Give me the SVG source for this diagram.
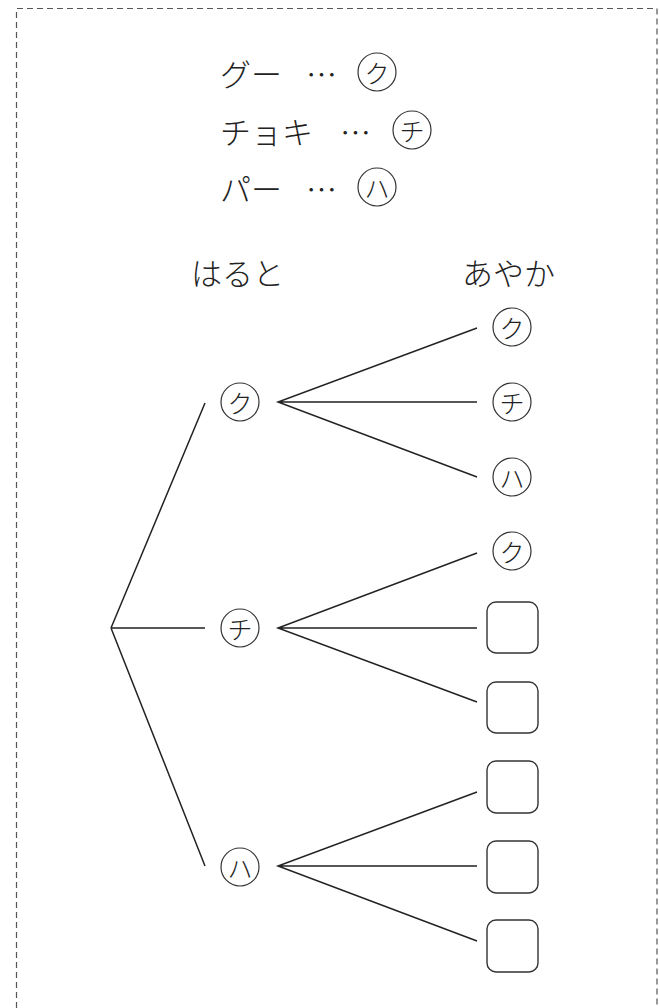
<svg xmlns="http://www.w3.org/2000/svg" width="660" height="1008" viewBox="0 0 660 1008">
<style>
.t{font-family:"Noto Sans CJK JP","Noto Sans CJK SC",sans-serif;font-size:31px;font-weight:300;fill:#222;dominant-baseline:central}
.c{font-family:"Noto Sans CJK JP","Noto Sans CJK SC",sans-serif;font-size:25px;font-weight:300;fill:#222;text-anchor:middle;dominant-baseline:central}
.ring{fill:none;stroke:#333;stroke-width:1.2}
.box{fill:#fff;stroke:#333;stroke-width:1.4}
.ln{stroke:#222;stroke-width:1.5;fill:none}
</style>
<defs>
<circle id="ring" r="19" class="ring"/>
</defs>
<path d="M16.5 1008 V8.5 H657 V1008" fill="none" stroke="#555" stroke-width="1.2" stroke-dasharray="6 4"/>
<g id="legend">
<text class="t" x="220" y="72">グー</text>
<text class="t" x="306" y="72">…</text>
<use href="#ring" x="377" y="72"/><text class="c" x="377" y="72">ク</text>
<text class="t" x="220" y="130">チョキ</text>
<text class="t" x="340" y="130">…</text>
<use href="#ring" x="412" y="130"/><text class="c" x="412" y="130">チ</text>
<text class="t" x="220" y="187">パー</text>
<text class="t" x="306" y="187">…</text>
<use href="#ring" x="377" y="187"/><text class="c" x="377" y="187">ハ</text>
</g>
<g id="headers">
<text class="t" x="191" y="271">はると</text>
<text class="t" x="462" y="271">あやか</text>
</g>
<g id="connectors">
<path class="ln" d="M111 628 L205 403 M111 628 L205 628 M111 628 L205 866"/>
<path class="ln" d="M477 328 L278 402 L477 477 M278 402 H477"/>
<path class="ln" d="M477 553 L278 628 L477 702 M278 628 H477"/>
<path class="ln" d="M477 792 L278 866 L477 941 M278 866 H477"/>
</g>
<g id="n-h-ku"><use href="#ring" x="240" y="402"/><text class="c" x="240" y="402">ク</text></g>
<g id="n-h-chi"><use href="#ring" x="240" y="628"/><text class="c" x="240" y="628">チ</text></g>
<g id="n-h-ha"><use href="#ring" x="240" y="867"/><text class="c" x="240" y="867">ハ</text></g>
<g id="n-a1"><use href="#ring" x="512" y="327"/><text class="c" x="512" y="327">ク</text></g>
<g id="n-a2"><use href="#ring" x="512" y="402"/><text class="c" x="512" y="402">チ</text></g>
<g id="n-a3"><use href="#ring" x="512" y="477"/><text class="c" x="512" y="477">ハ</text></g>
<g id="n-a4"><use href="#ring" x="512" y="551"/><text class="c" x="512" y="551">ク</text></g>
<g id="n-a5"><rect class="box" x="487" y="602" width="51" height="51" rx="9"/></g>
<g id="n-a6"><rect class="box" x="487" y="682" width="51" height="51" rx="9"/></g>
<g id="n-a7"><rect class="box" x="487" y="761" width="51" height="52" rx="9"/></g>
<g id="n-a8"><rect class="box" x="487" y="841" width="51" height="52" rx="9"/></g>
<g id="n-a9"><rect class="box" x="487" y="920" width="51" height="52" rx="9"/></g>
</svg>
